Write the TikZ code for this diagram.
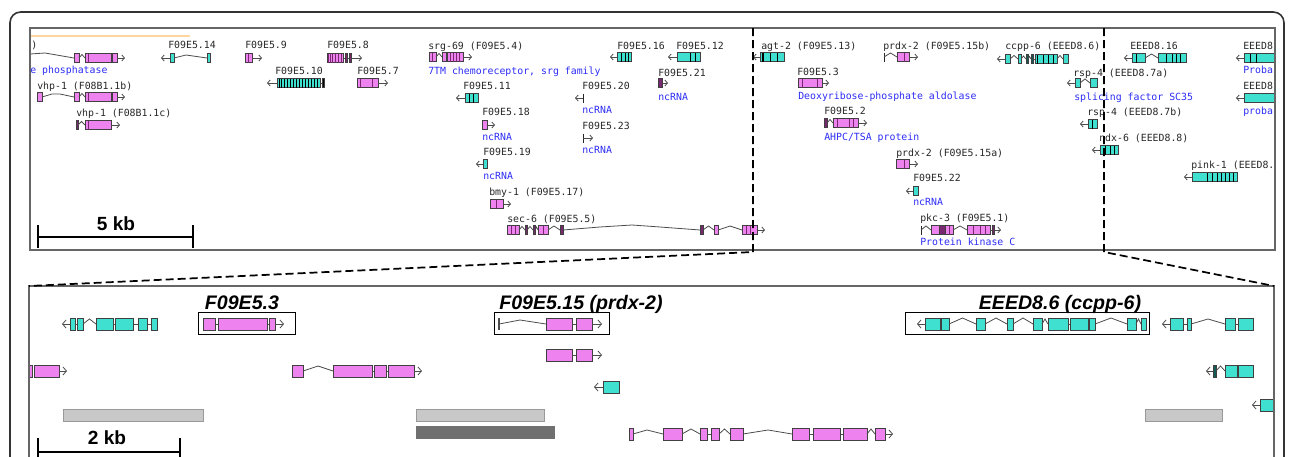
\documentclass[tikz,border=0pt]{standalone}
\usepackage{fontspec}
\usetikzlibrary{arrows.meta}
\newfontfamily\monof{DejaVu Sans Mono}
\newfontfamily\arialf{Liberation Sans}
\definecolor{pinkex}{RGB}{238,130,238}
\definecolor{tealex}{RGB}{64,224,208}
\definecolor{darkpk}{RGB}{120,40,110}
\definecolor{darktl}{RGB}{20,90,85}
\definecolor{descblue}{RGB}{45,45,245}
\definecolor{orangeln}{RGB}{255,214,160}
\definecolor{lgray}{RGB}{200,200,200}
\definecolor{dgray}{RGB}{112,112,112}
\newcommand\gEx[5]{\draw[exon,fill=#5] (#1,{#3-#4}) rectangle (#2,{#3+#4});}
\newcommand\gSt[4]{\foreach \q in {#1}{\draw[stripe,draw=#4] (\q,{#2-#3}) -- (\q,{#2+#3});}}
\newcommand\gIn[4]{\draw[intron] (#1,#3) -- ({(#1+#2)/2},{#3-#4}) -- (#2,#3);}
\newcommand\gAr[3]{\draw[intron,-{Straight Barb[length=2pt,width=4.5pt]}] (#1,#3) -- (#2,#3);}
\newcommand\gArB[3]{\draw[intron,-{Straight Barb[length=2.6pt,width=6pt]}] (#1,#3) -- (#2,#3);}
\newcommand\gBar[2]{\draw[stripe,draw=black!85] (#1,{#2-4.5}) -- (#1,{#2+4.5});}
\begin{document}
\begin{tikzpicture}[x=0.75pt,y=-0.75pt,
  exon/.style={draw=black!75,line width=0.7pt},
  stripe/.style={line width=0.75pt},
  intron/.style={draw=black!70,line width=0.6pt},
  lbl/.style={font={\monof\fontsize{7.4pt}{8pt}\selectfont},anchor=base west,inner sep=0pt,yshift=-2.6pt,text=black!85},
  desc/.style={lbl,text=descblue},
  kb/.style={font={\arialf\bfseries\fontsize{14.3pt}{16pt}\selectfont},anchor=base,inner sep=0pt},
  glabel/.style={font={\arialf\bfseries\itshape\fontsize{14.7pt}{16pt}\selectfont},anchor=base,inner sep=0pt},
  panel/.style={draw=black!60,line width=1.1pt},
  frame/.style={draw=black!80,line width=1.2pt},
  selbox/.style={draw=black,line width=0.6pt},
  dashline/.style={draw=black,line width=1.3pt,dash pattern=on 6pt off 3pt},
  scalebar/.style={draw=black,line width=2.1pt},
  lbar/.style={fill=lgray,draw=black!40,line width=0.6pt},
  dbar/.style={fill=dgray,draw=dgray,line width=0.6pt}]
\useasboundingbox (0,0) rectangle (1290,457);
\clip (0,0) rectangle (1290,457);
\draw[frame,rounded corners=8pt] (10,480) -- (10,12) -- (1284,12) -- (1284,480);

% ================= TOP PANEL =================
\begin{scope}
\clip (30,28) rectangle (1275,250);
\draw[orangeln,line width=0.9pt] (30,36) -- (190,36);

% partial gene at left
\node[lbl] (t0) at (31,45) {)};
\draw[intron] (30,54) -- (45,53) -- (74,58);
\gEx{74}{79}{58}{4.5}{pinkex}
\gIn{79}{85}{58}{3.5}
\gEx{85}{111}{58}{4.5}{pinkex}
\gSt{88}{58}{4.5}{darkpk}
\gEx{112}{117}{58}{4.5}{pinkex}
\gAr{117}{125}{58}
\node[desc] (t0d) at (30,70) {e phosphatase};

% vhp-1 b
\node[lbl] (t1) at (37,86) {vhp-1 (F08B1.1b)};
\gEx{37}{42}{97}{4.5}{pinkex}
\draw[intron] (42,97) -- (52,94) -- (60,94) -- (74,97);
\gEx{74}{79}{97}{4.5}{pinkex}
\gIn{79}{85}{97}{3.5}
\gEx{85}{111}{97}{4.5}{pinkex}
\gSt{88}{97}{4.5}{darkpk}
\gEx{112}{117}{97}{4.5}{pinkex}
\gAr{117}{125}{97}

% vhp-1 c
\node[lbl] (t2) at (76,113) {vhp-1 (F08B1.1c)};
\gEx{76}{78}{125}{4.5}{darkpk}
\gIn{78}{85}{125}{3.5}
\gEx{85}{111}{125}{4.5}{pinkex}
\gSt{88}{125}{4.5}{darkpk}
\gAr{111}{120}{125}

% F09E5.14
\node[lbl] (t3) at (168,45) {F09E5.14};
\gAr{170}{161}{58}
\gEx{170}{174}{58}{4.5}{tealex}
\draw[intron] (174,58) -- (186,55) -- (207,58);
\gEx{207}{210}{58}{4.5}{tealex}

% F09E5.9
\node[lbl] (t4) at (245,45) {F09E5.9};
\gEx{245}{252}{58}{4.5}{pinkex}
\gSt{248}{58}{4.5}{darkpk}
\gAr{252}{262}{58}

% F09E5.8
\node[lbl] (t5) at (327,45) {F09E5.8};
\gEx{327}{343}{58}{4.5}{pinkex}
\gSt{328.5,330,332,335,338,341}{58}{4.5}{darkpk}
\gEx{345}{347}{58}{4.5}{darkpk}
\gEx{349}{351}{58}{4.5}{darkpk}
\draw[intron] (343,58)--(345,58) (347,58)--(349,58);
\gAr{351}{362}{58}

% F09E5.10
\node[lbl] (t6) at (275,71) {F09E5.10};
\gAr{277}{267}{83}
\gEx{277}{320}{83}{4.5}{tealex}
\gSt{279,281,284,287,290,293,296,299,302,305,308,311,314,317}{83}{4.5}{black}
\draw[intron] (320,83)--(322,83);
\gEx{322}{324}{83}{4.5}{black}

% F09E5.7
\node[lbl] (t7) at (357,71) {F09E5.7};
\gEx{357}{378}{83}{4.5}{pinkex}
\gSt{360,372}{83}{4.5}{darkpk}
\gAr{378}{388}{83}

% srg-69
\node[lbl] (t8) at (428,46) {srg-69 (F09E5.4)};
\gEx{429}{436}{57}{4.5}{pinkex}
\gSt{432}{57}{4.5}{darkpk}
\gIn{436}{442}{57}{3.5}
\gEx{442}{446}{57}{4.5}{pinkex}
\gEx{447}{463}{57}{4.5}{pinkex}
\gSt{450,453,456,459}{57}{4.5}{darkpk}
\gAr{463}{472}{57}
\node[desc] (t8d) at (428,71) {7TM chemoreceptor, srg family};

% F09E5.16
\node[lbl] (t9) at (617,46) {F09E5.16};
\gAr{617}{610}{57}
\gEx{617}{631}{57}{4.5}{tealex}
\gSt{621,625,628}{57}{4.5}{black}

% F09E5.12
\node[lbl] (t10) at (676,46) {F09E5.12};
\gAr{677}{668}{57}
\gEx{677}{700}{57}{4.5}{tealex}
\gSt{690,695}{57}{4.5}{black}

% F09E5.21
\node[lbl] (t11) at (658,73) {F09E5.21};
\gEx{658}{662}{83}{4.5}{darkpk}
\gAr{662}{668}{83}
\node[desc] (t11d) at (658,97) {ncRNA};

% F09E5.11
\node[lbl] (t12) at (463,86) {F09E5.11};
\gAr{465}{456}{98}
\gEx{465}{478}{98}{4.5}{tealex}
\gSt{469,473}{98}{4.5}{black}

% F09E5.20
\node[lbl] (t13) at (582,86) {F09E5.20};
\gAr{583}{575}{98}
\gBar{583}{98}
\node[desc] (t13d) at (582,110) {ncRNA};

% F09E5.18
\node[lbl] (t14) at (482,112) {F09E5.18};
\gEx{482}{487}{125}{4.5}{pinkex}
\gAr{487}{495}{125}
\node[desc] (t14d) at (482,137) {ncRNA};

% F09E5.23
\node[lbl] (t15) at (582,126) {F09E5.23};
\gBar{583}{138}
\gAr{583}{593}{138}
\node[desc] (t15d) at (582,150) {ncRNA};

% F09E5.19
\node[lbl] (t16) at (483,152) {F09E5.19};
\gAr{483}{476}{164}
\gEx{483}{487}{164}{4.5}{tealex}
\node[desc] (t16d) at (483,176) {ncRNA};

% bmy-1
\node[lbl] (t17) at (489,192) {bmy-1 (F09E5.17)};
\gEx{490}{503}{204}{4.5}{pinkex}
\gSt{496}{204}{4.5}{darkpk}
\gAr{503}{511}{204}

% sec-6
\node[lbl] (t18) at (507,219) {sec-6 (F09E5.5)};
\gEx{507}{519}{230}{4.5}{pinkex}
\gSt{511,515}{230}{4.5}{darkpk}
\gIn{519}{525}{230}{3.5}
\gEx{525}{527}{230}{4.5}{darkpk}
\gIn{527}{533}{230}{3.5}
\gEx{533}{535}{230}{4.5}{darkpk}
\gIn{535}{538}{230}{3}
\gEx{538}{548}{230}{4.5}{pinkex}
\gSt{543}{230}{4.5}{darkpk}
\gIn{548}{560}{230}{4}
\gEx{560}{563}{230}{4.5}{darkpk}
\draw[intron] (563,230) -- (600,227) -- (632,225) -- (660,227) -- (700,230);
\gEx{700}{703}{230}{4.5}{darkpk}
\gIn{703}{714}{230}{4}
\gEx{714}{718}{230}{4.5}{pinkex}
\gIn{718}{742}{230}{4}
\gEx{742}{757}{230}{4.5}{pinkex}
\gSt{746,750}{230}{4.5}{darkpk}
\gAr{757}{765}{230}

% agt-2
\node[lbl] (t19) at (761,46) {agt-2 (F09E5.13)};
\gAr{760}{753}{57}
\gEx{760}{784}{57}{4.5}{tealex}
\gSt{762,763.5,770,777}{57}{4.5}{black}

% prdx-2 15b
\node[lbl] (t20) at (883,46) {prdx-2 (F09E5.15b)};
\gBar{884}{57}
\gIn{884}{897}{57}{4}
\gEx{897}{909}{57}{4.5}{pinkex}
\gSt{904}{57}{4.5}{darkpk}
\gAr{909}{918}{57}

% ccpp-6
\node[lbl] (t21) at (1005,46) {ccpp-6 (EEED8.6)};
\gAr{1005}{997}{59}
\gEx{1005}{1010}{59}{4.5}{tealex}
\gIn{1010}{1018}{59}{3.5}
\gEx{1018}{1021}{59}{4.5}{tealex}
\gIn{1021}{1026}{59}{3}
\gEx{1026}{1028}{59}{4.5}{darktl}
\gIn{1028}{1031}{59}{2.5}
\gEx{1031}{1033}{59}{4.5}{darktl}
\draw[intron] (1033,59)--(1035,59);
\gEx{1035}{1057}{59}{4.5}{tealex}
\gSt{1037,1043,1048,1053}{59}{4.5}{black}
\gIn{1057}{1063}{59}{3.5}
\gEx{1063}{1068}{59}{4.5}{tealex}

% F09E5.3
\node[lbl] (t22) at (797,72) {F09E5.3};
\gEx{798}{822}{83}{4.5}{pinkex}
\gSt{802,817}{83}{4.5}{darkpk}
\gAr{822}{829}{83}
\node[desc] (t22d) at (798,96) {Deoxyribose-phosphate aldolase};

% F09E5.2
\node[lbl] (t23) at (824,111) {F09E5.2};
\gEx{824}{827}{123}{4.5}{darkpk}
\gIn{827}{833}{123}{3.5}
\gEx{833}{858}{123}{4.5}{pinkex}
\gSt{837,849,853}{123}{4.5}{darkpk}
\gAr{858}{867}{123}
\node[desc] (t23d) at (824,137) {AHPC/TSA protein};

% prdx-2 15a
\node[lbl] (t24) at (896,153) {prdx-2 (F09E5.15a)};
\gEx{896}{909}{164}{4.5}{pinkex}
\gSt{904}{164}{4.5}{darkpk}
\gAr{909}{918}{164}

% F09E5.22
\node[lbl] (t25) at (913,178) {F09E5.22};
\gAr{913}{906}{191}
\gEx{913}{918}{191}{4.5}{tealex}
\node[desc] (t25d) at (913,202) {ncRNA};

% pkc-3
\node[lbl] (t26) at (920,218) {pkc-3 (F09E5.1)};
\gBar{921}{230}
\gIn{921}{931}{230}{4}
\gEx{931}{939}{230}{4.5}{pinkex}
\gEx{939}{945}{230}{4.5}{darkpk}
\gEx{945}{953}{230}{4.5}{pinkex}
\gSt{949}{230}{4.5}{darkpk}
\gIn{953}{967}{230}{4}
\gEx{967}{990}{230}{4.5}{pinkex}
\gSt{973,980,985}{230}{4.5}{darkpk}
\draw[intron] (990,230)--(992,230);
\gEx{992}{994}{230}{4.5}{darkpk}
\gAr{994}{1001}{230}
\node[desc] (t26d) at (920,242) {Protein kinase C};

% EEED8.16
\node[lbl] (t27) at (1130,46) {EEED8.16};
\gAr{1132}{1124}{58}
\gEx{1132}{1145}{58}{4.5}{tealex}
\gSt{1136}{58}{4.5}{black}
\gIn{1145}{1158}{58}{4}
\gEx{1158}{1186}{58}{4.5}{tealex}
\gSt{1166,1172,1176,1180}{58}{4.5}{black}

% EEED8 (clipped)
\node[lbl] (t28) at (1243,46) {EEED8};
\gAr{1244}{1236}{58}
\gEx{1244}{1290}{58}{4.5}{tealex}
\gSt{1250,1256}{58}{4.5}{black}
\node[desc] (t28d) at (1243,70) {Proba};

% rsp-4 a
\node[lbl] (t29) at (1073,73) {rsp-4 (EEED8.7a)};
\gAr{1075}{1067}{83}
\gEx{1075}{1080}{83}{4.5}{tealex}
\gIn{1080}{1090}{83}{4}
\gEx{1090}{1097}{83}{4.5}{tealex}
\node[desc] (t29d) at (1074,97) {splicing factor SC35};

% EEED8 second (clipped)
\node[lbl] (t30) at (1243,86) {EEED8};
\gAr{1244}{1236}{98}
\gEx{1244}{1290}{98}{4.5}{tealex}
\node[desc] (t30d) at (1243,111) {proba};

% rsp-4 b
\node[lbl] (t31) at (1087,112) {rsp-4 (EEED8.7b)};
\gAr{1088}{1080}{124}
\gEx{1088}{1097}{124}{4.5}{tealex}
\gSt{1092}{124}{4.5}{black}

% ndx-6
\node[lbl] (t32) at (1099,138) {ndx-6 (EEED8.8)};
\gAr{1100}{1092}{150}
\gEx{1100}{1118}{150}{4.5}{tealex}
\gSt{1105,1110,1114}{150}{4.5}{black}

% pink-1
\node[lbl] (t33) at (1191,165) {pink-1 (EEED8.};
\gAr{1192}{1184}{177}
\gEx{1192}{1237}{177}{4.5}{tealex}
\gSt{1207,1212,1217,1221,1225,1229,1233}{177}{4.5}{black}

% scale bar 5 kb
\node[kb] (kb5) at (116,230) {5 kb};
\coordinate (s5a) at (38,237);
\coordinate (s5b) at (193,237);
\draw[scalebar] (s5a) -- (s5b);
\draw[scalebar] (38,225) -- (38,248);
\draw[scalebar] (193,225) -- (193,248);
\end{scope}
\draw[panel] (30,28) rectangle (1275,250);

% ================= BOTTOM PANEL =================
\begin{scope}
\clip (29,286) rectangle (1274,470);

% row 1, left teal gene
\gArB{70}{62}{324}
\gEx{70}{75}{324}{6}{tealex}
\draw[intron] (75,324)--(77,324);
\gEx{77}{83}{324}{6}{tealex}
\gIn{83}{96}{324}{5}
\gEx{96}{113}{324}{6}{tealex}
\draw[intron] (113,324)--(115,324) (133,324)--(138,324) (147,324)--(151,324);
\gEx{115}{133}{324}{6}{tealex}
\gEx{138}{147}{324}{6}{tealex}
\gEx{151}{157}{324}{6}{tealex}

% F09E5.3 box
\node[glabel] (g1) at (242,309) {F09E5.3};
\draw[selbox] (198,312) rectangle (295,334);
\draw[intron] (215,324)--(218,324) (267,324)--(269,324);
\gEx{203}{215}{324}{6}{pinkex}
\gEx{218}{267}{324}{6}{pinkex}
\gEx{269}{275}{324}{6}{pinkex}
\gArB{275}{284}{324}

% F09E5.15 box
\node[glabel] (g2) at (581,309) {F09E5.15 (prdx-2)};
\draw[selbox] (494,312) rectangle (609,334);
\draw[intron,line width=1pt] (499,318) -- (499,330);
\draw[intron] (499,324) -- (520,320) -- (546,324);
\gEx{546}{572}{324}{6}{pinkex}
\draw[intron] (572,324)--(576,324);
\gEx{576}{592}{324}{6}{pinkex}
\gArB{592}{602}{324}

% EEED8.6 box
\node[glabel] (g3) at (1060,309) {EEED8.6 (ccpp-6)};
\draw[selbox] (905,312) rectangle (1149,334);
\gArB{925}{917}{324}
\gEx{925}{940}{324}{6}{tealex}
\gEx{941}{949}{324}{6}{tealex}
\gIn{949}{976}{324}{6}
\gEx{976}{985}{324}{6}{tealex}
\gIn{985}{1007}{324}{6}
\gEx{1007}{1013}{324}{6}{tealex}
\gIn{1013}{1033}{324}{6}
\gEx{1033}{1042}{324}{6}{tealex}
\gIn{1042}{1048}{324}{5}
\gEx{1048}{1068}{324}{6}{tealex}
\draw[intron] (1068,324)--(1070,324);
\gEx{1070}{1088}{324}{6}{tealex}
\gEx{1089}{1095}{324}{6}{tealex}
\gIn{1095}{1127}{324}{6}
\gEx{1127}{1136}{324}{6}{tealex}
\gIn{1136}{1141}{324}{5}
\gEx{1141}{1146}{324}{6}{tealex}

% row 1 right teal gene
\gArB{1170}{1162}{324}
\gEx{1170}{1183}{324}{6}{tealex}
\draw[intron] (1183,324)--(1187,324);
\gEx{1187}{1191}{324}{6}{tealex}
\gIn{1191}{1225}{324}{5}
\gEx{1225}{1235}{324}{6}{tealex}
\draw[intron] (1235,324)--(1238,324);
\gEx{1238}{1253}{324}{6}{tealex}

% row 355
\gEx{546}{572}{355}{6}{pinkex}
\draw[intron] (572,355)--(576,355);
\gEx{576}{592}{355}{6}{pinkex}
\gArB{592}{602}{355}

% row 371
\gEx{27}{32}{371}{6}{pinkex}
\gEx{34}{59}{371}{6}{pinkex}
\gArB{59}{67}{371}
\gEx{292}{303}{371}{6}{pinkex}
\draw[intron] (303,371) -- (318,366) -- (333,371);
\gEx{333}{372}{371}{6}{pinkex}
\draw[intron] (372,371)--(374,371) (386,371)--(388,371);
\gEx{374}{386}{371}{6}{pinkex}
\gEx{388}{414}{371}{6}{pinkex}
\gArB{414}{422}{371}
\gArB{1213}{1206}{371}
\gEx{1213}{1216}{371}{6}{darktl}
\gIn{1216}{1225}{371}{5}
\gEx{1225}{1237}{371}{6}{tealex}
\gEx{1238}{1253}{371}{6}{tealex}

% row 387
\gArB{603}{594}{387}
\gEx{603}{619}{387}{6}{tealex}

% row 405
\gArB{1260}{1252}{405}
\gEx{1260}{1290}{405}{6}{tealex}

% row 434
\gEx{629}{633}{434}{6}{pinkex}
\draw[intron] (633,434) -- (647,430) -- (663,434);
\gEx{663}{682}{434}{6}{pinkex}
\gIn{682}{700}{434}{5}
\gEx{700}{707}{434}{6}{pinkex}
\draw[intron] (707,434)--(711,434);
\gEx{711}{719}{434}{6}{pinkex}
\gIn{719}{730}{434}{5}
\gEx{730}{743}{434}{6}{pinkex}
\draw[intron] (743,434) -- (768,430) -- (792,434);
\gEx{792}{809}{434}{6}{pinkex}
\draw[intron] (809,434)--(813,434) (840,434)--(843,434);
\gEx{813}{840}{434}{6}{pinkex}
\gEx{843}{867}{434}{6}{pinkex}
\gIn{867}{875}{434}{5}
\gEx{875}{885}{434}{6}{pinkex}
\gArB{885}{893}{434}

% gray bars
\draw[lbar] (63,409) rectangle (203,421);
\draw[lbar] (416,409) rectangle (544,421);
\draw[dbar] (416,426) rectangle (554,438);
\draw[lbar] (1145,409) rectangle (1222,421);

% scale bar 2 kb
\node[kb] (kb2) at (107,444) {2 kb};
\coordinate (s2a) at (38,452);
\coordinate (s2b) at (180,452);
\draw[scalebar] (s2a) -- (s2b);
\draw[scalebar] (38,438) -- (38,470);
\draw[scalebar] (180,438) -- (180,470);
\end{scope}
\draw[panel] (29,470) -- (29,286) -- (1274,286) -- (1274,470);

% dashed zoom connectors
\coordinate (dA1) at (753,28);
\coordinate (dA2) at (753,252);
\coordinate (dB1) at (1104,28);
\coordinate (dB2) at (1104,252);
\coordinate (pL) at (29,286);
\coordinate (pR) at (1274,286);
\draw[dashline] (dA1) -- (dA2) -- (pL);
\draw[dashline] (dB1) -- (dB2) -- (pR);
\end{tikzpicture}
\end{document}
